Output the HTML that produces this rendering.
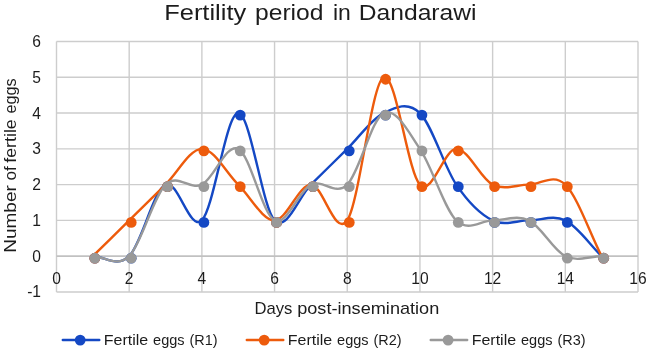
<!DOCTYPE html><html><head><meta charset="utf-8"><style>
html,body{margin:0;padding:0;background:#fff;}
svg{display:block}
text{font-family:"Liberation Sans",sans-serif;fill:#1c1c1c;}
.ax{font-size:15.6px}
.ti{font-size:22.6px}
.lb{font-size:15.7px}
.lg{font-size:14.8px}
</style></head><body><svg width="649" height="350" viewBox="0 0 649 350">
<rect width="649" height="350" fill="#fff"/>
<g opacity="0.999">
<line x1="56.50" x2="638.00" y1="291.99" y2="291.99" stroke="#cdcdcd" stroke-width="1.4"/>
<line x1="56.50" x2="638.00" y1="256.20" y2="256.20" stroke="#cdcdcd" stroke-width="1.4"/>
<line x1="56.50" x2="638.00" y1="220.41" y2="220.41" stroke="#cdcdcd" stroke-width="1.4"/>
<line x1="56.50" x2="638.00" y1="184.63" y2="184.63" stroke="#cdcdcd" stroke-width="1.4"/>
<line x1="56.50" x2="638.00" y1="148.84" y2="148.84" stroke="#cdcdcd" stroke-width="1.4"/>
<line x1="56.50" x2="638.00" y1="113.06" y2="113.06" stroke="#cdcdcd" stroke-width="1.4"/>
<line x1="56.50" x2="638.00" y1="77.27" y2="77.27" stroke="#cdcdcd" stroke-width="1.4"/>
<line x1="56.50" x2="638.00" y1="41.49" y2="41.49" stroke="#cdcdcd" stroke-width="1.4"/>
<line x1="56.50" x2="56.50" y1="291.99" y2="41.49" stroke="#cdcdcd" stroke-width="1.4"/>
<line x1="129.19" x2="129.19" y1="291.99" y2="41.49" stroke="#cdcdcd" stroke-width="1.4"/>
<line x1="201.88" x2="201.88" y1="291.99" y2="41.49" stroke="#cdcdcd" stroke-width="1.4"/>
<line x1="274.56" x2="274.56" y1="291.99" y2="41.49" stroke="#cdcdcd" stroke-width="1.4"/>
<line x1="347.25" x2="347.25" y1="291.99" y2="41.49" stroke="#cdcdcd" stroke-width="1.4"/>
<line x1="419.94" x2="419.94" y1="291.99" y2="41.49" stroke="#cdcdcd" stroke-width="1.4"/>
<line x1="492.62" x2="492.62" y1="291.99" y2="41.49" stroke="#cdcdcd" stroke-width="1.4"/>
<line x1="565.31" x2="565.31" y1="291.99" y2="41.49" stroke="#cdcdcd" stroke-width="1.4"/>
<line x1="638.00" x2="638.00" y1="291.99" y2="41.49" stroke="#cdcdcd" stroke-width="1.4"/>
<line x1="56.50" x2="638.00" y1="256.20" y2="256.20" stroke="#bdbdbd" stroke-width="1.3"/>
<path d="M92.84 256.20 C104.96 256.20 117.07 268.13 129.19 256.20 C141.30 244.27 153.42 190.59 165.53 184.63 C177.65 178.66 189.76 232.34 201.88 220.41 C213.99 208.49 226.10 113.06 238.22 113.06 C250.33 113.06 262.45 208.49 274.56 220.41 C286.68 232.34 298.79 196.56 310.91 184.63 C323.02 172.70 335.14 160.77 347.25 148.84 C359.36 136.91 371.48 119.02 383.59 113.06 C395.71 107.09 407.82 101.13 419.94 113.06 C432.05 124.99 444.17 166.74 456.28 184.63 C468.40 202.52 480.51 214.45 492.62 220.41 C504.74 226.38 516.85 220.41 528.97 220.41 C541.08 220.41 553.20 214.45 565.31 220.41 C577.43 226.38 589.54 244.27 601.66 256.20" fill="none" stroke="#1448c4" stroke-width="2.4" stroke-linecap="round" stroke-linejoin="round"/>
<circle cx="94.84" cy="258.20" r="5.4" fill="#1448c4"/>
<circle cx="131.19" cy="258.20" r="5.4" fill="#1448c4"/>
<circle cx="167.53" cy="186.63" r="5.4" fill="#1448c4"/>
<circle cx="203.88" cy="222.41" r="5.4" fill="#1448c4"/>
<circle cx="240.22" cy="115.06" r="5.4" fill="#1448c4"/>
<circle cx="276.56" cy="222.41" r="5.4" fill="#1448c4"/>
<circle cx="312.91" cy="186.63" r="5.4" fill="#1448c4"/>
<circle cx="349.25" cy="150.84" r="5.4" fill="#1448c4"/>
<circle cx="385.59" cy="115.06" r="5.4" fill="#1448c4"/>
<circle cx="421.94" cy="115.06" r="5.4" fill="#1448c4"/>
<circle cx="458.28" cy="186.63" r="5.4" fill="#1448c4"/>
<circle cx="494.62" cy="222.41" r="5.4" fill="#1448c4"/>
<circle cx="530.97" cy="222.41" r="5.4" fill="#1448c4"/>
<circle cx="567.31" cy="222.41" r="5.4" fill="#1448c4"/>
<circle cx="603.66" cy="258.20" r="5.4" fill="#1448c4"/>
<path d="M92.84 256.20 C104.96 244.27 117.07 232.34 129.19 220.41 C141.30 208.49 153.42 196.56 165.53 184.63 C177.65 172.70 189.76 148.84 201.88 148.84 C213.99 148.84 226.10 172.70 238.22 184.63 C250.33 196.56 262.45 220.41 274.56 220.41 C286.68 220.41 298.79 184.63 310.91 184.63 C323.02 184.63 335.14 238.31 347.25 220.41 C359.36 202.52 371.48 83.24 383.59 77.27 C395.71 71.31 407.82 172.70 419.94 184.63 C432.05 196.56 444.17 148.84 456.28 148.84 C468.40 148.84 480.51 178.66 492.62 184.63 C504.74 190.59 516.85 184.63 528.97 184.63 C541.08 184.63 553.20 172.70 565.31 184.63 C577.43 196.56 589.54 232.34 601.66 256.20" fill="none" stroke="#ed5b0c" stroke-width="2.4" stroke-linecap="round" stroke-linejoin="round"/>
<circle cx="94.84" cy="258.20" r="5.4" fill="#ed5b0c"/>
<circle cx="131.19" cy="222.41" r="5.4" fill="#ed5b0c"/>
<circle cx="167.53" cy="186.63" r="5.4" fill="#ed5b0c"/>
<circle cx="203.88" cy="150.84" r="5.4" fill="#ed5b0c"/>
<circle cx="240.22" cy="186.63" r="5.4" fill="#ed5b0c"/>
<circle cx="276.56" cy="222.41" r="5.4" fill="#ed5b0c"/>
<circle cx="312.91" cy="186.63" r="5.4" fill="#ed5b0c"/>
<circle cx="349.25" cy="222.41" r="5.4" fill="#ed5b0c"/>
<circle cx="385.59" cy="79.27" r="5.4" fill="#ed5b0c"/>
<circle cx="421.94" cy="186.63" r="5.4" fill="#ed5b0c"/>
<circle cx="458.28" cy="150.84" r="5.4" fill="#ed5b0c"/>
<circle cx="494.62" cy="186.63" r="5.4" fill="#ed5b0c"/>
<circle cx="530.97" cy="186.63" r="5.4" fill="#ed5b0c"/>
<circle cx="567.31" cy="186.63" r="5.4" fill="#ed5b0c"/>
<circle cx="603.66" cy="258.20" r="5.4" fill="#ed5b0c"/>
<path d="M92.84 256.20 C104.96 256.20 117.07 268.13 129.19 256.20 C141.30 244.27 153.42 196.56 165.53 184.63 C177.65 172.70 189.76 190.59 201.88 184.63 C213.99 178.66 226.10 142.88 238.22 148.84 C250.33 154.81 262.45 214.45 274.56 220.41 C286.68 226.38 298.79 190.59 310.91 184.63 C323.02 178.66 335.14 196.56 347.25 184.63 C359.36 172.70 371.48 119.02 383.59 113.06 C395.71 107.09 407.82 130.95 419.94 148.84 C432.05 166.74 444.17 208.49 456.28 220.41 C468.40 232.34 480.51 220.41 492.62 220.41 C504.74 220.41 516.85 214.45 528.97 220.41 C541.08 226.38 553.20 250.24 565.31 256.20 C577.43 262.16 589.54 256.20 601.66 256.20" fill="none" stroke="#999999" stroke-width="2.4" stroke-linecap="round" stroke-linejoin="round"/>
<circle cx="94.84" cy="258.20" r="5.4" fill="#999999"/>
<circle cx="131.19" cy="258.20" r="5.4" fill="#999999"/>
<circle cx="167.53" cy="186.63" r="5.4" fill="#999999"/>
<circle cx="203.88" cy="186.63" r="5.4" fill="#999999"/>
<circle cx="240.22" cy="150.84" r="5.4" fill="#999999"/>
<circle cx="276.56" cy="222.41" r="5.4" fill="#999999"/>
<circle cx="312.91" cy="186.63" r="5.4" fill="#999999"/>
<circle cx="349.25" cy="186.63" r="5.4" fill="#999999"/>
<circle cx="385.59" cy="115.06" r="5.4" fill="#999999"/>
<circle cx="421.94" cy="150.84" r="5.4" fill="#999999"/>
<circle cx="458.28" cy="222.41" r="5.4" fill="#999999"/>
<circle cx="494.62" cy="222.41" r="5.4" fill="#999999"/>
<circle cx="530.97" cy="222.41" r="5.4" fill="#999999"/>
<circle cx="567.31" cy="258.20" r="5.4" fill="#999999"/>
<circle cx="603.66" cy="258.20" r="5.4" fill="#999999"/>
<text x="41" y="297.49" text-anchor="end" class="ax">-1</text>
<text x="41" y="261.70" text-anchor="end" class="ax">0</text>
<text x="41" y="225.91" text-anchor="end" class="ax">1</text>
<text x="41" y="190.13" text-anchor="end" class="ax">2</text>
<text x="41" y="154.34" text-anchor="end" class="ax">3</text>
<text x="41" y="118.56" text-anchor="end" class="ax">4</text>
<text x="41" y="82.77" text-anchor="end" class="ax">5</text>
<text x="41" y="46.99" text-anchor="end" class="ax">6</text>
<text x="56.50" y="284" text-anchor="middle" class="ax">0</text>
<text x="129.19" y="284" text-anchor="middle" class="ax">2</text>
<text x="201.88" y="284" text-anchor="middle" class="ax">4</text>
<text x="274.56" y="284" text-anchor="middle" class="ax">6</text>
<text x="347.25" y="284" text-anchor="middle" class="ax">8</text>
<text x="419.94" y="284" text-anchor="middle" class="ax">10</text>
<text x="492.62" y="284" text-anchor="middle" class="ax">12</text>
<text x="565.31" y="284" text-anchor="middle" class="ax">14</text>
<text x="638.00" y="284" text-anchor="middle" class="ax">16</text>
<text x="164.20" y="19.80" class="ti" textLength="82.00" lengthAdjust="spacingAndGlyphs">Fertility</text>
<text x="255.00" y="19.80" class="ti" textLength="68.50" lengthAdjust="spacingAndGlyphs">period</text>
<text x="333.00" y="19.80" class="ti" textLength="17.90" lengthAdjust="spacingAndGlyphs">in</text>
<text x="358.80" y="19.80" class="ti" textLength="117.70" lengthAdjust="spacingAndGlyphs">Dandarawi</text>
<text x="254.50" y="313.60" class="lb" textLength="37.90" lengthAdjust="spacingAndGlyphs">Days</text>
<text x="297.20" y="313.60" class="lb" textLength="142.10" lengthAdjust="spacingAndGlyphs">post-insemination</text>
<text transform="translate(16.30,252.70) rotate(-90)" class="lb" textLength="67.50" lengthAdjust="spacingAndGlyphs">Number</text>
<text transform="translate(16.30,180.60) rotate(-90)" class="lb" textLength="14.30" lengthAdjust="spacingAndGlyphs">of</text>
<text transform="translate(16.30,162.80) rotate(-90)" class="lb" textLength="43.60" lengthAdjust="spacingAndGlyphs">fertile</text>
<text transform="translate(16.30,113.50) rotate(-90)" class="lb" textLength="35.20" lengthAdjust="spacingAndGlyphs">eggs</text>
<line x1="62.8" x2="99.3" y1="340" y2="340" stroke="#1448c4" stroke-width="2.4" stroke-linecap="round"/>
<circle cx="80.2" cy="340.1" r="5.4" fill="#1448c4"/>
<text x="103.80" y="344.80" class="lg" textLength="44.40" lengthAdjust="spacingAndGlyphs">Fertile</text>
<text x="153.10" y="344.80" class="lg" textLength="31.50" lengthAdjust="spacingAndGlyphs">eggs</text>
<text x="189.50" y="344.80" class="lg" textLength="28.10" lengthAdjust="spacingAndGlyphs">(R1)</text>
<line x1="246.8" x2="283.3" y1="340" y2="340" stroke="#ed5b0c" stroke-width="2.4" stroke-linecap="round"/>
<circle cx="264.2" cy="340.1" r="5.4" fill="#ed5b0c"/>
<text x="287.80" y="344.80" class="lg" textLength="44.40" lengthAdjust="spacingAndGlyphs">Fertile</text>
<text x="337.10" y="344.80" class="lg" textLength="31.50" lengthAdjust="spacingAndGlyphs">eggs</text>
<text x="373.50" y="344.80" class="lg" textLength="28.10" lengthAdjust="spacingAndGlyphs">(R2)</text>
<line x1="430.7" x2="467.2" y1="340" y2="340" stroke="#999999" stroke-width="2.4" stroke-linecap="round"/>
<circle cx="448.1" cy="340.1" r="5.4" fill="#999999"/>
<text x="471.70" y="344.80" class="lg" textLength="44.40" lengthAdjust="spacingAndGlyphs">Fertile</text>
<text x="521.00" y="344.80" class="lg" textLength="31.50" lengthAdjust="spacingAndGlyphs">eggs</text>
<text x="557.40" y="344.80" class="lg" textLength="28.10" lengthAdjust="spacingAndGlyphs">(R3)</text>
</g>
</svg></body></html>
